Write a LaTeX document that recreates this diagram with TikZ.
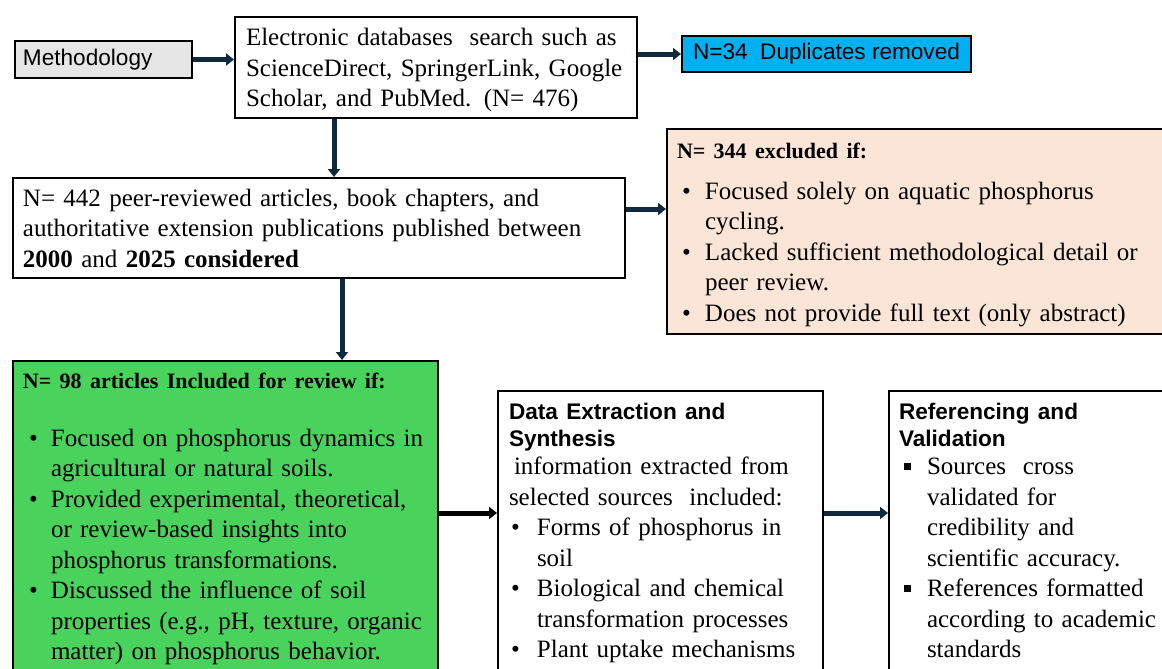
\documentclass[tikz,border=0pt]{standalone}
\usepackage{fontspec}
\setmainfont{Liberation Serif}
\setsansfont{Liberation Sans}
\usetikzlibrary{positioning,arrows.meta}

\definecolor{arrowblue}{HTML}{0E2A3C}
\definecolor{methgray}{HTML}{E7E6E6}
\definecolor{dupblue}{HTML}{00B0F0}
\definecolor{exclpeach}{HTML}{FBE5D6}
\definecolor{inclgreen}{HTML}{4AD35C}

\newcommand{\bodyfont}{\fontsize{12.5}{15.25}\selectfont\lineskip=0pt}
\newcommand{\headfont}{\fontsize{11}{15.25}\selectfont\bfseries}
\newcommand{\sanstext}{\sffamily\fontsize{11.3}{13.5}\selectfont}
\newcommand{\lines}[1]{\begin{tabular}[t]{@{}l@{}}#1\end{tabular}}
\newcommand{\bitem}[2][2.5pt]{\par\noindent\makebox[14pt][l]{\hspace{#1}\textbullet}\lines{#2}}
\newcommand{\sqitem}[1]{\par\noindent\makebox[14pt][l]{\hspace{2.5pt}\raisebox{2.2pt}{\rule{3.6pt}{3.6pt}}}\lines{#1}}

\begin{document}
\begin{tikzpicture}[
  x=0.5pt, y=-0.5pt,
  box/.style={draw, line width=1pt, inner ysep=0pt, anchor=north west, align=left},
  arrow/.style={-{Triangle[length=4pt,width=6pt]}, line width=2.5pt, arrowblue}
]
\useasboundingbox (0,0) rectangle (1162,669);
\clip (0,0) rectangle (1162,669);

% top row
\node[box, fill=methgray, text width=80.5pt, inner xsep=4pt, minimum height=18.5pt, font=\sanstext]
  (meth) at (14,40) {Methodology};
\node[box, fill=white, text width=190pt, inner xsep=5.5pt, text height=14.5pt, text depth=36pt, font=\bodyfont]
  (search) at (234,16) {\lines{Electronic databases\ \ search such as\\ScienceDirect, SpringerLink, Google\\Scholar, and PubMed. (N= 476)}};
\node[box, fill=dupblue, minimum width=144.5pt, minimum height=18pt, align=center, font=\sanstext]
  (dup) at (681,35) {N=34\ \ Duplicates removed};

% screening
\node[box, fill=white, text width=296pt, inner xsep=5pt, text height=14pt, text depth=36pt, font=\bodyfont]
  (pool) at (12,177) {\lines{N= 442 peer-reviewed articles, book chapters, and\\authoritative extension publications published between\\\textbf{2000} and \textbf{2025 considered}}};
\node[box, fill=exclpeach, text width=239pt, inner xsep=5pt, text height=14.5pt, text depth=88pt, font=\bodyfont]
  (excl) at (666,128) {{\headfont N= 344 excluded if:\par}\vspace{5.25pt}
  \bitem{Focused solely on aquatic phosphorus\\cycling.}
  \bitem{Lacked sufficient methodological detail or\\peer review.}
  \bitem{Does not provide full text (only abstract)}};

% bottom row
\node[box, fill=inclgreen, text width=202.5pt, inner xsep=5pt, text height=13.5pt, text depth=160pt, font=\bodyfont]
  (incl) at (12,360) {{\headfont N= 98 articles Included for review if:\par}\vspace{13.75pt}
  \bitem[3pt]{Focused on phosphorus dynamics in\\agricultural or natural soils.}
  \bitem[3pt]{Provided experimental, theoretical,\\or review-based insights into\\phosphorus transformations.}
  \bitem[3pt]{Discussed the influence of soil\\properties (e.g., pH, texture, organic\\matter) on phosphorus behavior.}};
\node[box, fill=white, text width=151.5pt, inner xsep=5.5pt, text height=14pt, text depth=150pt, font=\bodyfont]
  (extract) at (497,390) {{\sanstext\bfseries Data Extraction and\\Synthesis\par}\vspace{-1pt}
  \noindent\lines{\hspace*{2.5pt}information extracted from\\selected sources\ \ included:}
  \bitem[1pt]{Forms of phosphorus in\\soil}
  \bitem[1pt]{Biological and chemical\\transformation processes}
  \bitem[1pt]{Plant uptake mechanisms}};
\node[box, fill=white, text width=130pt, inner xsep=5pt, text height=14pt, text depth=150pt, font=\bodyfont]
  (refval) at (888,390) {{\sanstext\bfseries Referencing and\\Validation\par}\vspace{-1pt}
  \sqitem{Sources\ \ cross\\validated for\\credibility and\\scientific accuracy.}
  \sqitem{References formatted\\according to academic\\standards}};

% connectors
\coordinate (row) at (0,513);
\draw[arrow] (meth.east) -- (meth.east -| search.west);
\draw[arrow] (search.east |- dup.west) -- (dup.west);
\draw[arrow] ([xshift=-51pt]search.south) -- ([xshift=-51pt]search.south |- pool.north);
\draw[arrow] ([yshift=9.5pt]pool.east) -- ([yshift=9.5pt]pool.east -| excl.west);
\draw[arrow] ([xshift=11.5pt]pool.south) -- ([xshift=11.5pt]pool.south |- incl.north);
\draw[arrow, black] (incl.east |- row) -- (extract.west |- row);
\draw[arrow] (extract.east |- row) -- (refval.west |- row);
\end{tikzpicture}
\end{document}
